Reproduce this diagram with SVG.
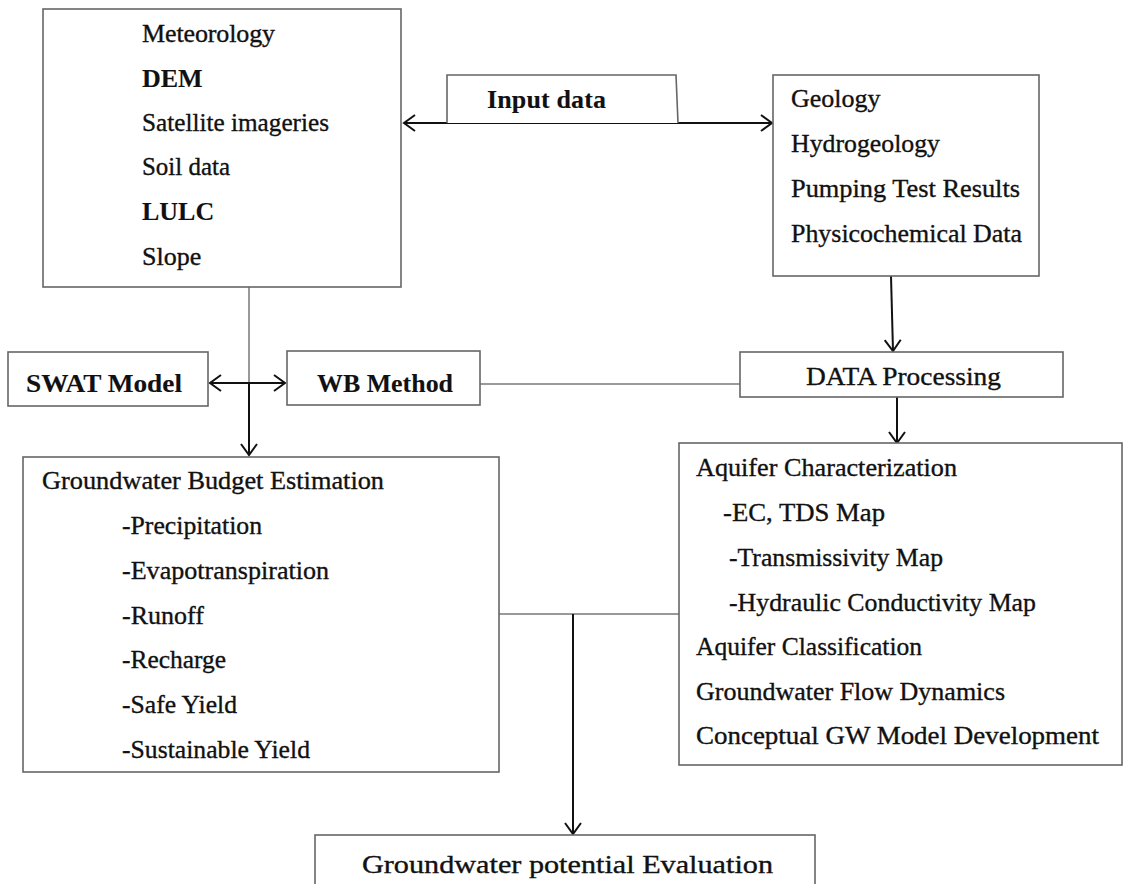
<svg xmlns="http://www.w3.org/2000/svg" width="1132" height="884" viewBox="0 0 1132 884">
<style>
.box{fill:#fff;stroke:#666;stroke-width:1.6}
.t{font-family:"Liberation Serif","Times New Roman",serif;font-size:26px;fill:#111;stroke:#111;stroke-width:0.35}
.b{font-weight:bold;stroke-width:0.1}
.thin{stroke:#777;stroke-width:1.5;fill:none}
.arr{stroke:#111;stroke-width:2;fill:none}
</style>
<defs>
<marker id="ah" markerUnits="userSpaceOnUse" markerWidth="14" markerHeight="20" viewBox="0 0 14 20" refX="12" refY="10" orient="auto-start-reverse">
<path d="M1,2 L12,10 L1,18" fill="none" stroke="#111" stroke-width="2"/>
</marker>
</defs>
<rect width="1132" height="884" fill="#fff"/>
<g id="connectors">
<line class="arr" x1="404" y1="123" x2="772" y2="123" marker-start="url(#ah)" marker-end="url(#ah)"/>
<line class="thin" x1="249" y1="287" x2="249" y2="383"/>
<line class="arr" x1="249" y1="383" x2="249" y2="455" marker-end="url(#ah)"/>
<line class="arr" x1="210" y1="383" x2="285" y2="383" marker-start="url(#ah)" marker-end="url(#ah)"/>
<line class="thin" x1="480" y1="384" x2="740" y2="384"/>
<line class="arr" x1="891" y1="276" x2="893" y2="351" marker-end="url(#ah)"/>
<line class="arr" x1="897" y1="397" x2="897" y2="443" marker-end="url(#ah)"/>
<line class="thin" x1="499" y1="614" x2="679" y2="614"/>
<line class="arr" x1="573" y1="614" x2="573" y2="834" marker-end="url(#ah)"/>
</g>
<g id="input-data">
<path class="box" d="M447,123 L447,75 L676,75 L678,123" />
<text class="t b" x="487" y="108" font-size="26" textLength="119" lengthAdjust="spacing">Input data</text>
</g>
<g id="spatial-inputs">
<rect class="box" x="43" y="9" width="358" height="278"/>
<text class="t" x="142" y="42" textLength="133" lengthAdjust="spacing">Meteorology</text>
<text class="t b" x="142" y="87">DEM</text>
<text class="t" x="142" y="131" textLength="187" lengthAdjust="spacingAndGlyphs">Satellite imageries</text>
<text class="t" x="142" y="175" textLength="88" lengthAdjust="spacingAndGlyphs">Soil data</text>
<text class="t b" x="142" y="220">LULC</text>
<text class="t" x="142" y="265">Slope</text>
</g>
<g id="field-inputs">
<rect class="box" x="773" y="75" width="266" height="201"/>
<text class="t" x="791" y="107">Geology</text>
<text class="t" x="791" y="152" textLength="149" lengthAdjust="spacingAndGlyphs">Hydrogeology</text>
<text class="t" x="791" y="197" textLength="229" lengthAdjust="spacingAndGlyphs">Pumping Test Results</text>
<text class="t" x="791" y="242" textLength="231" lengthAdjust="spacingAndGlyphs">Physicochemical Data</text>
</g>
<g id="swat">
<rect class="box" x="8" y="352" width="200" height="54"/>
<text class="t b" x="26" y="392" font-size="25" textLength="156" lengthAdjust="spacingAndGlyphs">SWAT Model</text>
</g>
<g id="wb">
<rect class="box" x="287" y="351" width="193" height="54"/>
<text class="t b" x="317" y="392" font-size="25" textLength="136" lengthAdjust="spacingAndGlyphs">WB Method</text>
</g>
<g id="data-processing">
<rect class="box" x="740" y="352" width="323" height="45"/>
<text class="t" x="806" y="385" font-size="27" textLength="195" lengthAdjust="spacingAndGlyphs">DATA Processing</text>
</g>
<g id="budget">
<rect class="box" x="23" y="457" width="476" height="315"/>
<text class="t" x="42" y="489" textLength="342" lengthAdjust="spacingAndGlyphs">Groundwater Budget Estimation</text>
<text class="t" x="122" y="534" textLength="140" lengthAdjust="spacingAndGlyphs">-Precipitation</text>
<text class="t" x="122" y="579" textLength="207" lengthAdjust="spacingAndGlyphs">-Evapotranspiration</text>
<text class="t" x="122" y="624">-Runoff</text>
<text class="t" x="122" y="668" textLength="104" lengthAdjust="spacingAndGlyphs">-Recharge</text>
<text class="t" x="122" y="713" textLength="115" lengthAdjust="spacingAndGlyphs">-Safe Yield</text>
<text class="t" x="122" y="758" textLength="188" lengthAdjust="spacingAndGlyphs">-Sustainable Yield</text>
</g>
<g id="aquifer">
<rect class="box" x="679" y="443" width="443" height="322"/>
<text class="t" x="696" y="476" textLength="261" lengthAdjust="spacingAndGlyphs">Aquifer Characterization</text>
<text class="t" x="723" y="521" textLength="162" lengthAdjust="spacingAndGlyphs">-EC, TDS Map</text>
<text class="t" x="729" y="566" textLength="214" lengthAdjust="spacingAndGlyphs">-Transmissivity Map</text>
<text class="t" x="729" y="611" textLength="307" lengthAdjust="spacingAndGlyphs">-Hydraulic Conductivity Map</text>
<text class="t" x="696" y="655" textLength="226" lengthAdjust="spacingAndGlyphs">Aquifer Classification</text>
<text class="t" x="696" y="700" textLength="309" lengthAdjust="spacingAndGlyphs">Groundwater Flow Dynamics</text>
<text class="t" x="696" y="744" textLength="403" lengthAdjust="spacingAndGlyphs">Conceptual GW Model Development</text>
</g>
<g id="potential">
<rect class="box" x="315" y="835" width="500" height="60"/>
<text class="t" x="362" y="873" font-size="32" textLength="411" lengthAdjust="spacingAndGlyphs">Groundwater potential Evaluation</text>
</g>
</svg>
